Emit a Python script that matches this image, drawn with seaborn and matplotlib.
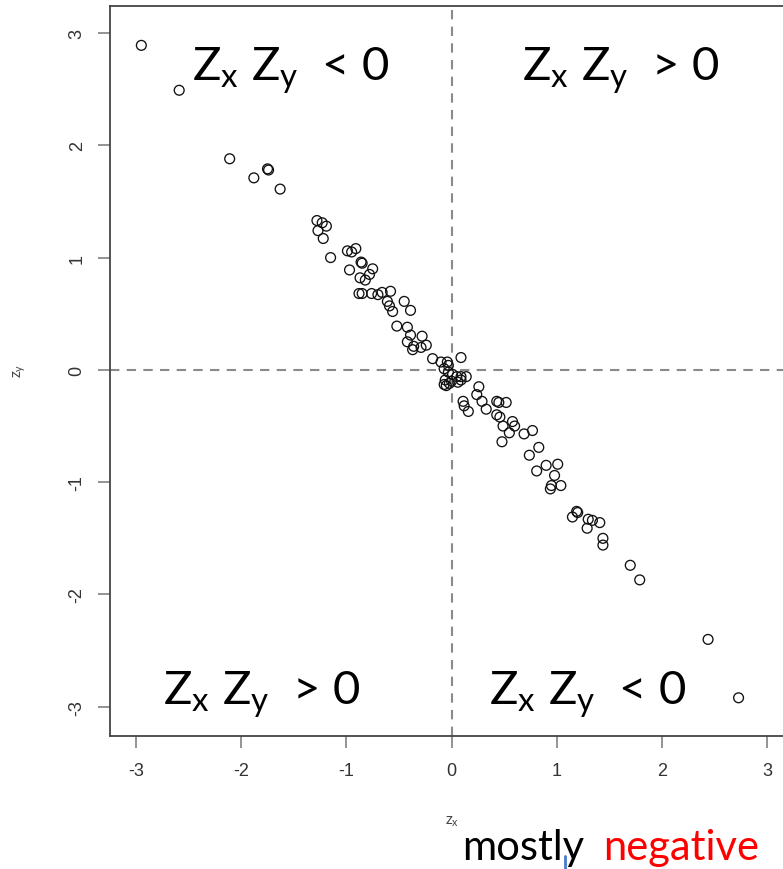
import matplotlib
matplotlib.use("Agg")
import matplotlib.pyplot as plt
from matplotlib.lines import Line2D
import seaborn as sns

# standardized scores
z_x = [-2.95, -2.59, -2.11, -1.88, -1.75, -1.74, -1.63, -1.28, -1.23, -1.19,
       -1.27, -1.22, -1.15, -0.99, -0.95, -0.91, -0.97, -0.86, -0.85, -0.75,
       -0.78, -0.87, -0.82, -0.88, -0.85, -0.76, -0.70, -0.66, -0.58, -0.61,
       -0.59, -0.56, -0.45, -0.39, -0.52, -0.42, -0.39, -0.28, -0.42, -0.36,
       -0.29, -0.24, -0.37, -0.18, -0.10, -0.04, -0.03, 0.09, -0.07, -0.03,
       0.01, 0.05, 0.09, 0.14, -0.07, -0.05, 0.00, 0.06, 0.09, -0.06,
       -0.02, 0.26, 0.24, 0.11, 0.12, 0.16, 0.29, 0.33, 0.43, 0.45,
       0.52, 0.43, 0.46, 0.49, 0.58, 0.60, 0.55, 0.48, 0.69, 0.77,
       0.83, 0.74, 0.90, 1.01, 0.81, 0.98, 0.95, 0.94, 1.04, 1.19,
       1.20, 1.15, 1.30, 1.34, 1.41, 1.29, 1.44, 1.44, 1.70, 1.79,
       2.44, 2.73]
z_y = [2.89, 2.49, 1.88, 1.71, 1.79, 1.78, 1.61, 1.33, 1.31, 1.28,
       1.24, 1.17, 1.00, 1.06, 1.05, 1.08, 0.89, 0.96, 0.95, 0.90,
       0.85, 0.82, 0.80, 0.68, 0.68, 0.68, 0.67, 0.69, 0.70, 0.61,
       0.57, 0.52, 0.61, 0.53, 0.39, 0.38, 0.31, 0.30, 0.25, 0.21,
       0.20, 0.22, 0.18, 0.10, 0.07, 0.07, 0.04, 0.11, 0.01, -0.02,
       -0.04, -0.06, -0.06, -0.06, -0.13, -0.14, -0.10, -0.11, -0.09, -0.09,
       -0.12, -0.15, -0.22, -0.28, -0.32, -0.37, -0.28, -0.35, -0.28, -0.29,
       -0.29, -0.40, -0.42, -0.50, -0.46, -0.50, -0.56, -0.64, -0.57, -0.54,
       -0.69, -0.76, -0.85, -0.84, -0.90, -0.94, -1.03, -1.06, -1.03, -1.26,
       -1.27, -1.31, -1.33, -1.34, -1.36, -1.41, -1.50, -1.56, -1.74, -1.87,
       -2.40, -2.92]

ticks = [-3, -2, -1, 0, 1, 2, 3]
quadrant_labels = [r"$Z_x\ Z_y$  < 0", r"$Z_x\ Z_y$  > 0",
                   r"$Z_x\ Z_y$  > 0", r"$Z_x\ Z_y$  < 0"]

sns.set_style("white")
plt.rcParams["font.family"] = ["Liberation Sans", "DejaVu Sans"]
plt.rcParams["mathtext.fontset"] = "custom"
plt.rcParams["mathtext.rm"] = "Lato"
plt.rcParams["mathtext.it"] = "Lato"

fig = plt.figure(figsize=(7.83, 8.7), dpi=100)
# right side of the box runs off the picture, like the cropped original
ax = fig.add_axes([0.1405, 0.1529, 0.8723, 0.839])

dash = (0, (4.5, 3.5))
ax.axhline(0, color="#8a8a8a", lw=1.5, ls=dash, zorder=1)
ax.axvline(0, color="#8a8a8a", lw=1.5, ls=dash, zorder=1)

sns.scatterplot(x=z_x, y=z_y, ax=ax, marker="o", s=50,
                facecolors="none", edgecolor="#111111", linewidth=0.95,
                zorder=3)

ax.set_xlim(-3.248, 3.248)
ax.set_ylim(-3.26, 3.24)
ax.set_xticks(ticks)
ax.set_yticks(ticks)
ax.set_xticklabels([str(t) for t in ticks])
ax.set_yticklabels([str(t) for t in ticks], rotation=90, va="center")

for side in ax.spines.values():
    side.set_color("#444444")
    side.set_linewidth(1.3)
ax.tick_params(axis="both", bottom=True, left=True, length=8.5, width=1.1,
               color="#777777", labelcolor="#333333", labelsize=13,
               direction="out", pad=9)
ax.tick_params(axis="x", pad=10)

ax.set_xlabel(r"$z_x$", fontsize=11, color="#444444")
ax.set_ylabel(r"$z_y$", fontsize=11, color="#444444")
ax.xaxis.set_label_coords(0.5007, -0.107)
ax.yaxis.set_label_coords(-0.120, 0.501)

# quadrant annotations
lab_kw = dict(fontsize=34, family="Lato", color="black",
              ha="center", va="baseline", zorder=4)
ax.text(-1.53, 2.58, quadrant_labels[0], **lab_kw)
ax.text(1.61, 2.58, quadrant_labels[1], **lab_kw)
ax.text(-1.81, -2.97, quadrant_labels[2], **lab_kw)
ax.text(1.30, -2.97, quadrant_labels[3], **lab_kw)

fig.text(462 / 783, 10 / 870, "mostly", fontsize=30, family="Lato",
         color="black", ha="left", va="baseline")
fig.text(603 / 783, 10 / 870, "negative", fontsize=30, family="Lato",
         color="#ff0000", ha="left", va="baseline")
# the stray text cursor in the original slide
fig.add_artist(Line2D([565 / 783, 565 / 783], [0, 13 / 870],
                      color="#4a78d0", lw=2, transform=fig.transFigure))

fig.savefig("out.png", dpi=100)
